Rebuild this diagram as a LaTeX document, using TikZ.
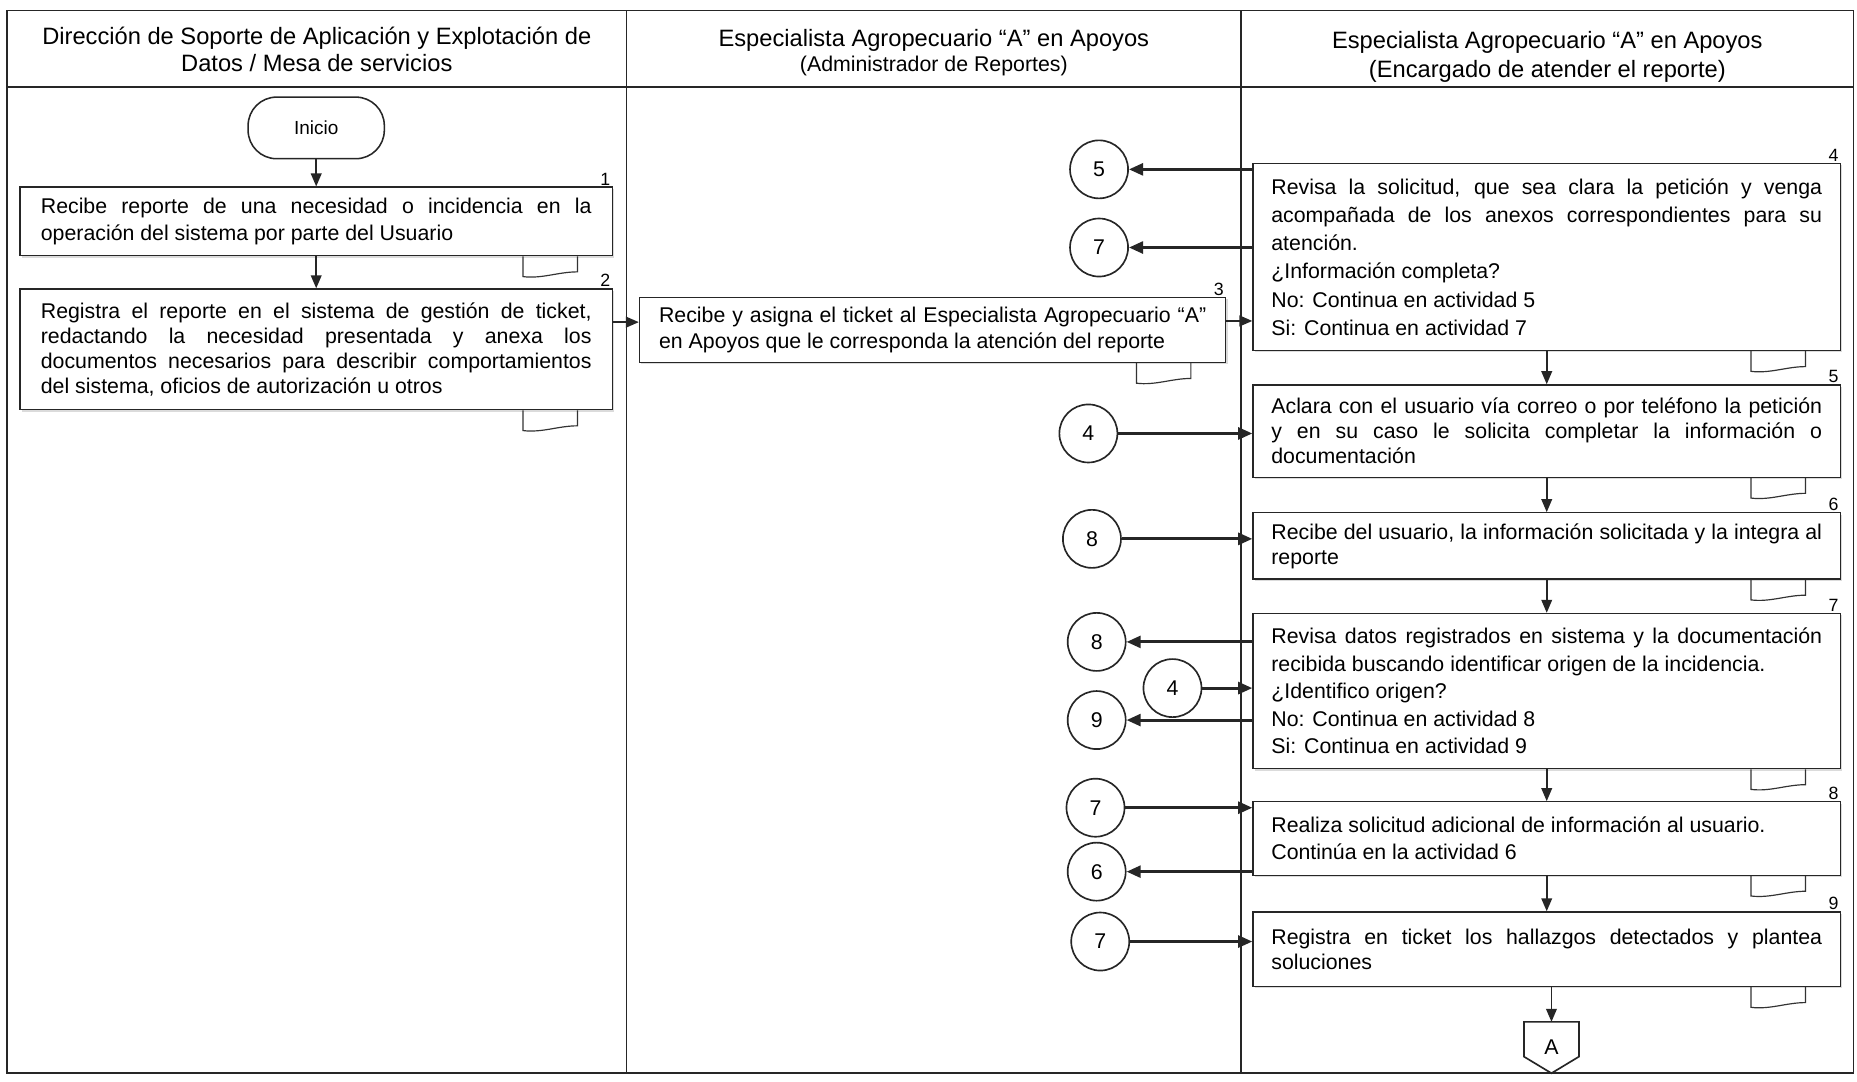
\documentclass[tikz,border=0pt]{standalone}
\usepackage{fontspec}
\setmainfont{Liberation Sans}
\usetikzlibrary{arrows.meta,shadows}
\hyphenpenalty=10000
\exhyphenpenalty=10000
\tolerance=9999
\emergencystretch=10pt
\newcommand\bxf[1]{\fontsize{18}{#1}\selectfont}
\newcommand\docsym[1]{\draw[docln] ([xshift=-76pt]#1.south east) -- ++(0,17) .. controls +(16,2) and +(-16,0) .. ++(46,-4) -- ++(0,-13);}
\tikzset{
  frame/.style={draw=black!85, line width=1.4pt},
  hdr/.style={font=\fontsize{20}{23}\selectfont, align=center, inner sep=0pt, text=black},
  hdrs/.style={font=\fontsize{18}{21}\selectfont, align=center, inner sep=0pt, text=black},
  proc/.style={draw=black!85, line width=1.1pt, fill=white, inner sep=0pt, align=justify, text=black,
    drop shadow={shadow xshift=1.6pt, shadow yshift=-1.6pt, fill=black!28}},
  term/.style={draw=black!85, line width=1.3pt, minimum width=115pt, minimum height=52pt, rounded corners=24pt,
    font=\fontsize{16}{18}\selectfont, inner sep=0pt, text=black},
  stepno/.style={font=\fontsize{15}{16}\selectfont, anchor=south east, inner sep=1pt, text=black},
  circ/.style={draw=black!85, circle, line width=1.4pt, minimum size=49pt, inner sep=0pt,
    font=\fontsize{18}{20}\selectfont, text=black, fill=white},
  docln/.style={draw=black!80, line width=1pt},
  varr/.style={draw=black!85, line width=1.4pt, -{Triangle[length=11pt,width=9pt]}},
  harr/.style={draw=black!85, line width=1.8pt, -{Triangle[length=11pt,width=9pt]}},
  conn/.style={draw=black!85, line width=2.6pt, -{Triangle[length=12pt,width=10pt]}},
  offpg/.style={draw=black!85, line width=1.4pt},
}
\begin{document}
\begin{tikzpicture}[x=1pt,y=-1pt]
\useasboundingbox (0,0) rectangle (1568,913);
\fill[white] (0,0) rectangle (1568,913);
% frame and lanes
\draw[frame] (6,9) rectangle (1565,906);
\draw[frame] (6,73.5) -- (1565,73.5);
\draw[frame] (529,9) -- (529,906);
\draw[frame] (1048,9) -- (1048,906);
% headers
\node[hdr] (h1) at (267.5,42) {Dirección de Soporte de Aplicación y Explotación de\\Datos / Mesa de servicios};
\node[hdr] (h2a) at (788.5,34) {Especialista Agropecuario “A” en Apoyos};
\node[hdrs] (h2b) at (788.5,56) {(Administrador de Reportes)};
\node[hdr] (h3a) at (1306.5,36) {Especialista Agropecuario “A” en Apoyos};
\node[hdr] (h3b) at (1306.5,60) {(Encargado de atender el reporte)};
% lane 1
\node[term] (ini) at (267,108) {Inicio};
\node[proc, minimum width=500pt, minimum height=58pt, text width=465pt, font=\bxf{22}] (b1) at (267,187)
  {Recibe reporte de una necesidad o incidencia en la operación del sistema por parte del Usuario};
\node[proc, minimum width=500pt, minimum height=102pt, text width=465pt, font=\bxf{21}] (b2) at (267,295)
  {Registra el reporte en el sistema de gestión de ticket, redactando la necesidad presentada y anexa los documentos necesarios para describir comportamientos del sistema, oficios de autorización u otros};
% lane 2
\node[proc, minimum width=495pt, minimum height=55pt, text width=462pt, font=\bxf{22}] (b3) at (787.5,278.5)
  {Recibe y asigna el ticket al Especialista Agropecuario “A” en Apoyos que le corresponda la atención del reporte};
% lane 3
\node[proc, minimum width=496pt, minimum height=158pt, text width=465pt, font=\bxf{23.8}] (b4) at (1306,217)
  {Revisa la solicitud, que sea clara la petición y venga acompañada de los anexos correspondientes para su atención.\\
   ¿Información completa?\\No: Continua en actividad 5\\Si: Continua en actividad 7};
\node[proc, minimum width=496pt, minimum height=78pt, text width=465pt, font=\bxf{21}] (b5) at (1306,364)
  {Aclara con el usuario vía correo o por teléfono la petición y en su caso le solicita completar la información o documentación};
\node[proc, minimum width=496pt, minimum height=56pt, text width=465pt, font=\bxf{21}] (b6) at (1306,461)
  {Recibe del usuario, la información solicitada y la integra al reporte};
\node[proc, minimum width=496pt, minimum height=131pt, text width=465pt, font=\bxf{23.3}] (b7) at (1306,583.5)
  {Revisa datos registrados en sistema y la documentación recibida buscando identificar origen de la incidencia.\\
   ¿Identifico origen?\\No: Continua en actividad 8\\Si: Continua en actividad 9};
\node[proc, minimum width=496pt, minimum height=62pt, text width=465pt, font=\bxf{23}] (b8) at (1306,708)
  {Realiza solicitud adicional de información al usuario.\\Continúa en la actividad 6};
\node[proc, minimum width=496pt, minimum height=63pt, text width=465pt, font=\bxf{21}] (b9) at (1306,801.5)
  {Registra en ticket los hallazgos detectados y plantea soluciones};
% step numbers
\node[stepno] (n1) at ([xshift=-1pt]b1.north east) {1};
\node[stepno] (n2) at ([xshift=-1pt]b2.north east) {2};
\node[stepno] (n3) at ([xshift=-1pt]b3.north east) {3};
\node[stepno] (n4) at ([xshift=-1pt]b4.north east) {4};
\node[stepno] (n5) at ([xshift=-1pt]b5.north east) {5};
\node[stepno] (n6) at ([xshift=-1pt]b6.north east) {6};
\node[stepno] (n7) at ([xshift=-1pt]b7.north east) {7};
\node[stepno] (n8) at ([xshift=-1pt]b8.north east) {8};
\node[stepno] (n9) at ([xshift=-1pt]b9.north east) {9};
% document symbols
\docsym{b1}\docsym{b2}\docsym{b3}\docsym{b4}\docsym{b5}\docsym{b6}\docsym{b7}\docsym{b8}\docsym{b9}
% off-page connector
\node[minimum width=46pt, minimum height=43pt, inner sep=0pt, font=\fontsize{18}{20}\selectfont, text=black] (A) at (1310,884.5) {A};
\draw[offpg] (A.north west) -- (A.north east) -- ([yshift=14pt]A.south east) -- (A.south) -- ([yshift=14pt]A.south west) -- cycle;
% vertical flow
\draw[varr] (ini.south) -- (ini.south |- b1.north);
\draw[varr] (b1) -- (b2);
\draw[varr] (b4) -- (b5);
\draw[varr] (b5) -- (b6);
\draw[varr] (b6) -- (b7);
\draw[varr] (b7) -- (b8);
\draw[varr] (b8) -- (b9);
\draw[varr] (b9.south -| A) -- (A.north);
% horizontal flow
\draw[harr] ([yshift=6.5pt]b3.west -| b2.east) -- ([yshift=6.5pt]b3.west);
\draw[harr] ([yshift=7.5pt]b3.east) -- ([yshift=7.5pt]b3.east -| b4.west);
% connectors
\node[circ] (c5a) at (928,143) {5};
\node[circ] (c7a) at (928,209) {7};
\node[circ] (c4a) at (919,366) {4};
\node[circ] (c8a) at (922,455) {8};
\node[circ] (c8b) at (926,542) {8};
\node[circ] (c4b) at (990,581) {4};
\node[circ] (c9) at (926,608) {9};
\node[circ] (c7b) at (925,682) {7};
\node[circ] (c6) at (926,736) {6};
\node[circ] (c7c) at (929,795) {7};
\draw[conn] (b4.west |- c5a) -- (c5a);
\draw[conn] (b4.west |- c7a) -- (c7a);
\draw[conn] (c4a) -- (c4a -| b5.west);
\draw[conn] (c8a) -- (c8a -| b6.west);
\draw[conn] (b7.west |- c8b) -- (c8b);
\draw[conn] (c4b) -- (c4b -| b7.west);
\draw[conn] (b7.west |- c9) -- (c9);
\draw[conn] (c7b) -- (c7b -| b8.west);
\draw[conn] (b8.west |- c6) -- (c6);
\draw[conn] (c7c) -- (c7c -| b9.west);
\end{tikzpicture}
\end{document}
